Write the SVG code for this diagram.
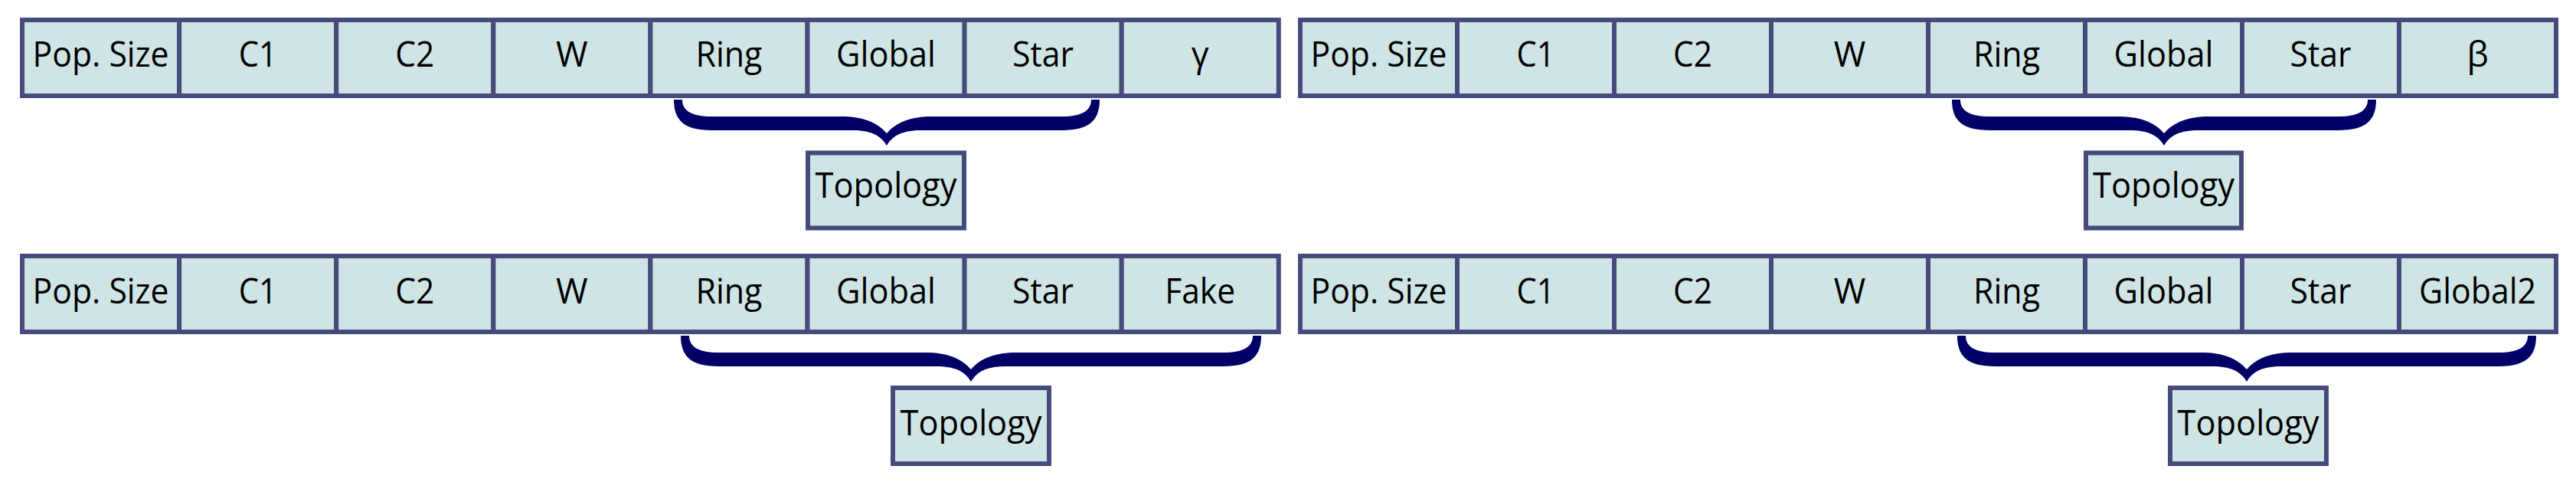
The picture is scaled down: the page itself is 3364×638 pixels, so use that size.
<svg xmlns="http://www.w3.org/2000/svg" width="3364" height="638" viewBox="0 0 3364 638">
<style>
.cell{fill:#CFE5E5;stroke:#474B7C;stroke-width:6}
.lbl{font-family:"Open Sans","Liberation Sans",sans-serif;font-size:45px;fill:#000;text-anchor:middle}
.brace{fill:#000066;stroke:none}
</style>
<rect width="3364" height="638" fill="#ffffff"/>
<g id="panel-gamma">
<g id="g-pop"><rect class="cell" x="29" y="26" width="205.1" height="99"/><text class="lbl" x="131.6" y="87" textLength="178" lengthAdjust="spacingAndGlyphs">Pop. Size</text></g>
<g id="g-c1"><rect class="cell" x="234.1" y="26" width="205.1" height="99"/><text class="lbl" x="336.7" y="87" textLength="50" lengthAdjust="spacingAndGlyphs">C1</text></g>
<g id="g-c2"><rect class="cell" x="439.2" y="26" width="205.1" height="99"/><text class="lbl" x="541.8" y="87" textLength="51" lengthAdjust="spacingAndGlyphs">C2</text></g>
<g id="g-w"><rect class="cell" x="644.3" y="26" width="205.1" height="99"/><text class="lbl" x="746.9" y="87">W</text></g>
<g id="g-ring"><rect class="cell" x="849.4" y="26" width="205.1" height="99"/><text class="lbl" x="951.9" y="87" textLength="87" lengthAdjust="spacingAndGlyphs">Ring</text></g>
<g id="g-global"><rect class="cell" x="1054.5" y="26" width="205.1" height="99"/><text class="lbl" x="1157" y="87" textLength="130" lengthAdjust="spacingAndGlyphs">Global</text></g>
<g id="g-star"><rect class="cell" x="1259.6" y="26" width="205.1" height="99"/><text class="lbl" x="1362.1" y="87" textLength="80" lengthAdjust="spacingAndGlyphs">Star</text></g>
<g id="g-gamma"><rect class="cell" x="1464.7" y="26" width="205.1" height="99"/><text class="lbl" x="1567.2" y="87">γ</text></g>
<g id="g-topology"><rect class="cell" x="1055" y="199.5" width="204" height="98"/><text class="lbl" x="1157" y="258" textLength="185" lengthAdjust="spacingAndGlyphs">Topology</text></g>
</g>
<g id="panel-beta">
<g id="b-pop"><rect class="cell" x="1698" y="26" width="205" height="99"/><text class="lbl" x="1800.5" y="87" textLength="178" lengthAdjust="spacingAndGlyphs">Pop. Size</text></g>
<g id="b-c1"><rect class="cell" x="1903" y="26" width="205" height="99"/><text class="lbl" x="2005.5" y="87" textLength="50" lengthAdjust="spacingAndGlyphs">C1</text></g>
<g id="b-c2"><rect class="cell" x="2108" y="26" width="205" height="99"/><text class="lbl" x="2210.5" y="87" textLength="51" lengthAdjust="spacingAndGlyphs">C2</text></g>
<g id="b-w"><rect class="cell" x="2313" y="26" width="205" height="99"/><text class="lbl" x="2415.5" y="87">W</text></g>
<g id="b-ring"><rect class="cell" x="2518" y="26" width="205" height="99"/><text class="lbl" x="2620.5" y="87" textLength="87" lengthAdjust="spacingAndGlyphs">Ring</text></g>
<g id="b-global"><rect class="cell" x="2723" y="26" width="205" height="99"/><text class="lbl" x="2825.5" y="87" textLength="130" lengthAdjust="spacingAndGlyphs">Global</text></g>
<g id="b-star"><rect class="cell" x="2928" y="26" width="205" height="99"/><text class="lbl" x="3030.5" y="87" textLength="80" lengthAdjust="spacingAndGlyphs">Star</text></g>
<g id="b-beta"><rect class="cell" x="3133" y="26" width="205" height="99"/><text class="lbl" x="3235.5" y="87">β</text></g>
<g id="b-topology"><rect class="cell" x="2724" y="199.5" width="203" height="98"/><text class="lbl" x="2825.5" y="258" textLength="185" lengthAdjust="spacingAndGlyphs">Topology</text></g>
</g>
<g id="panel-fake">
<g id="f-pop"><rect class="cell" x="29" y="334" width="205.1" height="99"/><text class="lbl" x="131.6" y="396" textLength="178" lengthAdjust="spacingAndGlyphs">Pop. Size</text></g>
<g id="f-c1"><rect class="cell" x="234.1" y="334" width="205.1" height="99"/><text class="lbl" x="336.7" y="396" textLength="50" lengthAdjust="spacingAndGlyphs">C1</text></g>
<g id="f-c2"><rect class="cell" x="439.2" y="334" width="205.1" height="99"/><text class="lbl" x="541.8" y="396" textLength="51" lengthAdjust="spacingAndGlyphs">C2</text></g>
<g id="f-w"><rect class="cell" x="644.3" y="334" width="205.1" height="99"/><text class="lbl" x="746.9" y="396">W</text></g>
<g id="f-ring"><rect class="cell" x="849.4" y="334" width="205.1" height="99"/><text class="lbl" x="951.9" y="396" textLength="87" lengthAdjust="spacingAndGlyphs">Ring</text></g>
<g id="f-global"><rect class="cell" x="1054.5" y="334" width="205.1" height="99"/><text class="lbl" x="1157" y="396" textLength="130" lengthAdjust="spacingAndGlyphs">Global</text></g>
<g id="f-star"><rect class="cell" x="1259.6" y="334" width="205.1" height="99"/><text class="lbl" x="1362.1" y="396" textLength="80" lengthAdjust="spacingAndGlyphs">Star</text></g>
<g id="f-fake"><rect class="cell" x="1464.7" y="334" width="205.1" height="99"/><text class="lbl" x="1567.2" y="396" textLength="92" lengthAdjust="spacingAndGlyphs">Fake</text></g>
<g id="f-topology"><rect class="cell" x="1166" y="506" width="204" height="99"/><text class="lbl" x="1268" y="568" textLength="185" lengthAdjust="spacingAndGlyphs">Topology</text></g>
</g>
<g id="panel-global2">
<g id="g2-pop"><rect class="cell" x="1698" y="334" width="205" height="99"/><text class="lbl" x="1800.5" y="396" textLength="178" lengthAdjust="spacingAndGlyphs">Pop. Size</text></g>
<g id="g2-c1"><rect class="cell" x="1903" y="334" width="205" height="99"/><text class="lbl" x="2005.5" y="396" textLength="50" lengthAdjust="spacingAndGlyphs">C1</text></g>
<g id="g2-c2"><rect class="cell" x="2108" y="334" width="205" height="99"/><text class="lbl" x="2210.5" y="396" textLength="51" lengthAdjust="spacingAndGlyphs">C2</text></g>
<g id="g2-w"><rect class="cell" x="2313" y="334" width="205" height="99"/><text class="lbl" x="2415.5" y="396">W</text></g>
<g id="g2-ring"><rect class="cell" x="2518" y="334" width="205" height="99"/><text class="lbl" x="2620.5" y="396" textLength="87" lengthAdjust="spacingAndGlyphs">Ring</text></g>
<g id="g2-global"><rect class="cell" x="2723" y="334" width="205" height="99"/><text class="lbl" x="2825.5" y="396" textLength="130" lengthAdjust="spacingAndGlyphs">Global</text></g>
<g id="g2-star"><rect class="cell" x="2928" y="334" width="205" height="99"/><text class="lbl" x="3030.5" y="396" textLength="80" lengthAdjust="spacingAndGlyphs">Star</text></g>
<g id="g2-global2"><rect class="cell" x="3133" y="334" width="205" height="99"/><text class="lbl" x="3235.5" y="396" textLength="153" lengthAdjust="spacingAndGlyphs">Global2</text></g>
<g id="g2-topology"><rect class="cell" x="2834" y="506" width="204" height="99"/><text class="lbl" x="2936" y="568" textLength="185" lengthAdjust="spacingAndGlyphs">Topology</text></g>
</g>
<g id="connectors">
<path class="brace" d="M 880,130 L 891,130 C 891,144 902,152 930,152 L 1098,152 C 1128,152 1146,160 1158,174 C 1170,160 1188,152 1218,152 L 1386,152 C 1414,152 1425,144 1425,130 L 1436,130 C 1436,156 1424,170 1386,170 L 1203,170 C 1180,170 1166,176 1158,190 C 1150,176 1136,170 1113,170 L 930,170 C 892,170 880,156 880,130 Z"/>
<path class="brace" d="M 2549,130 L 2560,130 C 2560,144 2571,152 2599,152 L 2766,152 C 2796,152 2814,160 2826,174 C 2838,160 2856,152 2886,152 L 3053,152 C 3081,152 3092,144 3092,130 L 3103,130 C 3103,156 3091,170 3053,170 L 2871,170 C 2848,170 2834,176 2826,190 C 2818,176 2804,170 2781,170 L 2599,170 C 2561,170 2549,156 2549,130 Z"/>
<path class="brace" d="M 889,438 L 900,438 C 900,452 911,460 939,460 L 1208,460 C 1238,460 1256,468 1268,482 C 1280,468 1298,460 1328,460 L 1597,460 C 1625,460 1636,452 1636,438 L 1647,438 C 1647,464 1635,478 1597,478 L 1313,478 C 1290,478 1276,484 1268,498 C 1260,484 1246,478 1223,478 L 939,478 C 901,478 889,464 889,438 Z"/>
<path class="brace" d="M 2556,438 L 2567,438 C 2567,452 2578,460 2606,460 L 2874,460 C 2904,460 2922,468 2934,482 C 2946,468 2964,460 2994,460 L 3262,460 C 3290,460 3301,452 3301,438 L 3312,438 C 3312,464 3300,478 3262,478 L 2979,478 C 2956,478 2942,484 2934,498 C 2926,484 2912,478 2889,478 L 2606,478 C 2568,478 2556,464 2556,438 Z"/>
</g>
</svg>
